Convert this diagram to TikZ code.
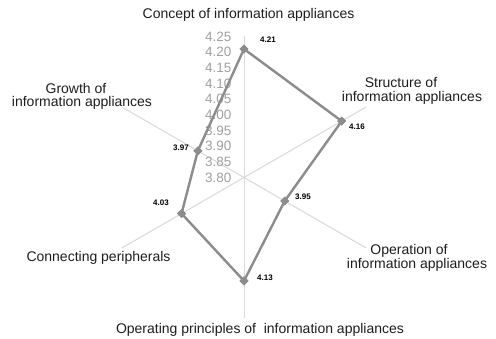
\documentclass[tikz,border=0pt]{standalone}
\usepackage{fontspec}
\setmainfont{Liberation Sans}
\usetikzlibrary{shapes.geometric}
\definecolor{spoke}{HTML}{D9D9D9}
\definecolor{serie}{HTML}{8C8C8C}
\definecolor{ticktxt}{HTML}{A0A0A0}
\definecolor{labtxt}{HTML}{1E1E1E}
\tikzset{
  spokeline/.style={draw=spoke, line width=1pt},
  serieline/.style={draw=serie, line width=2.4pt, line join=round},
  mk/.style={diamond, fill=serie, inner sep=0pt, minimum size=9pt},
  ticklab/.style={anchor=east, text=ticktxt, font=\fontsize{13.5}{13.5}\selectfont, inner sep=0pt},
  vallab/.style={text=black, font=\fontsize{8}{8}\selectfont\bfseries, inner sep=0pt},
  axlab/.style={text=labtxt, font=\fontsize{14}{14}\selectfont, inner sep=0pt, anchor=center}
}
\begin{document}
\begin{tikzpicture}[x=1pt,y=-1pt]
\useasboundingbox[fill=white] (0,0) rectangle (496,339);
\coordinate (c) at (244,177.5);
% spokes
\foreach \a/\n in {-90/s1,-30/s2,30/s3,90/s4,150/s5,210/s6}{
  \coordinate (\n) at ([shift={(\a:141)}]c);
  \draw[spokeline] (c) -- (\n);
}
% tick labels
\foreach \k/\t in {0/3.80,1/3.85,2/3.90,3/3.95,4/4.00,5/4.05,6/4.10,7/4.15,8/4.20,9/4.25}{
  \node[ticklab] (t\k) at (231.5,177.5-\k*15.67) {\t};
}
% data points
\node[mk] (p1) at ([shift={(-90:128.5)}]c) {};
\node[mk] (p2) at ([shift={(-30:112.8)}]c) {};
\node[mk] (p3) at ([shift={(30:47)}]c) {};
\node[mk] (p4) at ([shift={(90:103.4)}]c) {};
\node[mk] (p5) at ([shift={(150:72.1)}]c) {};
\node[mk] (p6) at ([shift={(210:53.3)}]c) {};
\draw[serieline] (p1.center) -- (p2.center) -- (p3.center) -- (p4.center) -- (p5.center) -- (p6.center) -- cycle;
\foreach \p in {p1,p2,p3,p4,p5,p6}{ \node[mk] at (\p) {}; }
% value labels
\node[vallab, anchor=west] (v1) at (260,40) {4.21};
\node[vallab, anchor=west] (v2) at (349,127) {4.16};
\node[vallab, anchor=west] (v3) at (295,197) {3.95};
\node[vallab, anchor=west] (v4) at (257,278) {4.13};
\node[vallab, anchor=east] (v5) at (169,203) {4.03};
\node[vallab, anchor=east] (v6) at (189,148) {3.97};
% axis labels
\node[axlab] (a1) at (248.5,15) {Concept of information appliances};
\node[axlab] (a2a) at (401,83) {Structure of};
\node[axlab] (a2b) at (412,97.5) {information appliances};
\node[axlab] (a3a) at (409,250.5) {Operation of};
\node[axlab] (a3b) at (417,264.5) {information appliances};
\node[axlab] (a4) at (260,330) {Operating principles of~ information appliances};
\node[axlab] (a5) at (98.5,258) {Connecting peripherals};
\node[axlab] (a6a) at (76,88) {Growth of};
\node[axlab] (a6b) at (82,102.5) {information appliances};
\end{tikzpicture}
\end{document}
